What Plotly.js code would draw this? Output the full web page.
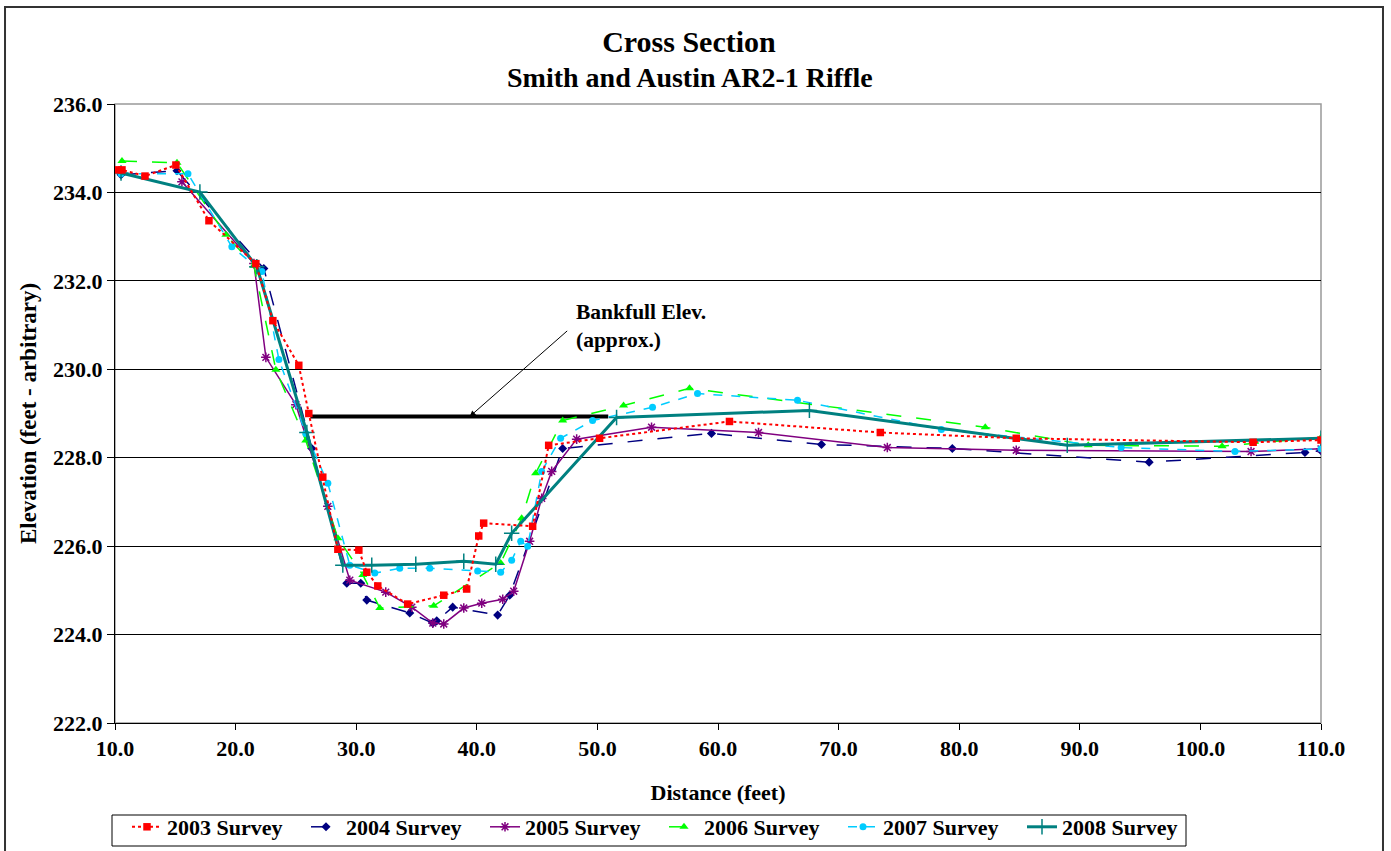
<!DOCTYPE html>
<html>
<head>
<meta charset="utf-8">
<script src="https://cdn.plot.ly/plotly-3.0.1.min.js"></script>
<style>
html,body{margin:0;padding:0;background:#fff;}
#chart{width:1391px;height:851px;}
</style>
</head>
<body>
<div id="chart"></div>
<script>
// ---- data (distance in feet, elevation in feet) ----
const x2003 = [10.25, 10.58, 12.49, 15.05, 17.79, 21.68, 23.09, 25.24, 26.07, 27.23, 28.48, 30.22, 30.88, 31.79, 34.27, 37.26, 39.16, 40.16, 40.57, 44.63, 45.96, 50.18, 60.95, 73.46, 84.73, 104.37, 110.0];
const y2003 = [234.51, 234.51, 234.37, 234.62, 233.36, 232.39, 231.10, 230.09, 229.00, 227.56, 225.93, 225.91, 225.41, 225.10, 224.69, 224.89, 225.03, 226.23, 226.52, 226.45, 228.28, 228.44, 228.82, 228.57, 228.44, 228.35, 228.40];

const x2004 = [10.50, 15.14, 22.34, 26.32, 29.22, 30.38, 30.88, 34.44, 36.35, 36.68, 38.00, 41.73, 42.73, 47.12, 59.46, 68.58, 79.43, 95.75, 108.67, 110.0];
const y2004 = [234.40, 234.49, 232.28, 228.21, 225.16, 225.16, 224.78, 224.49, 224.26, 224.31, 224.62, 224.44, 224.89, 228.21, 228.55, 228.30, 228.21, 227.90, 228.12, 228.16];

const x2005 = [15.55, 21.52, 22.51, 25.00, 27.65, 29.47, 32.45, 34.61, 36.35, 37.26, 38.92, 40.41, 42.15, 43.06, 44.38, 45.38, 46.21, 48.28, 54.49, 63.36, 74.04, 84.73, 104.20, 110.0];
const y2005 = [234.24, 232.39, 230.27, 229.20, 226.90, 225.23, 224.96, 224.62, 224.26, 224.24, 224.60, 224.71, 224.80, 224.98, 226.11, 227.08, 227.69, 228.42, 228.69, 228.57, 228.23, 228.17, 228.14, 228.20];

const x2006 = [10.58, 15.14, 19.20, 21.52, 23.34, 25.82, 28.48, 30.55, 31.96, 36.43, 41.98, 43.72, 44.88, 47.12, 52.17, 57.64, 82.16, 90.70, 101.80, 110.0];
const y2006 = [234.71, 234.67, 233.04, 232.34, 229.99, 228.39, 226.18, 225.35, 224.60, 224.65, 225.62, 226.63, 227.65, 228.84, 229.18, 229.57, 228.69, 228.28, 228.26, 228.46];

const x2007 = [10.50, 16.05, 19.69, 22.18, 23.59, 25.82, 27.65, 29.47, 31.54, 33.61, 36.10, 40.07, 41.98, 42.89, 43.64, 44.22, 45.38, 46.95, 49.60, 54.57, 58.30, 66.59, 78.52, 93.43, 102.87, 110.0];
const y2007 = [234.42, 234.42, 232.77, 232.21, 230.22, 228.55, 227.42, 225.57, 225.39, 225.50, 225.50, 225.44, 225.41, 225.68, 226.11, 226.00, 227.69, 228.44, 228.84, 229.14, 229.45, 229.30, 228.64, 228.23, 228.14, 228.20];

const x2008 = [10.50, 17.04, 21.76, 25.91, 28.89, 31.29, 34.94, 38.92, 41.57, 42.89, 51.59, 67.58, 88.96, 110.0];
const y2008 = [234.44, 234.01, 232.32, 228.57, 225.57, 225.57, 225.59, 225.66, 225.59, 226.29, 228.91, 229.07, 228.28, 228.44];

const bankfullX = [26.2, 50.9];
const bankfullY = [228.93, 228.93];

const seriesNames = ['2003 Survey', '2004 Survey', '2005 Survey', '2006 Survey', '2007 Survey', '2008 Survey'];

const FONT = '"Liberation Serif", "Times New Roman", Times, serif';

const traces = [
  {x: bankfullX, y: bankfullY, mode: 'lines', line: {color: '#000', width: 4}, showlegend: false, hoverinfo: 'skip'},
  {x: x2004, y: y2004, name: seriesNames[1], mode: 'lines+markers',
   line: {color: '#000080', width: 1.5, dash: 'longdash'}, marker: {symbol: 'diamond', size: 7, color: '#000080'}},
  {x: x2005, y: y2005, name: seriesNames[2], mode: 'lines+markers',
   line: {color: '#800080', width: 1.5}, marker: {symbol: 'asterisk-open', size: 8, color: '#800080', line: {color: '#800080', width: 1.5}}},
  {x: x2006, y: y2006, name: seriesNames[3], mode: 'lines+markers',
   line: {color: '#00FF00', width: 1.5, dash: 'longdash'}, marker: {symbol: 'triangle-up', size: 8, color: '#00FF00'}},
  {x: x2007, y: y2007, name: seriesNames[4], mode: 'lines+markers',
   line: {color: '#00CCFF', width: 1.5, dash: 'dash'}, marker: {symbol: 'circle', size: 7, color: '#00CCFF'}},
  {x: x2008, y: y2008, name: seriesNames[5], mode: 'lines+markers',
   line: {color: '#008080', width: 3}, marker: {symbol: 'cross-thin-open', size: 11, color: '#008080', line: {color: '#008080', width: 1.5}}},
  {x: x2003, y: y2003, name: seriesNames[0], mode: 'lines+markers',
   line: {color: '#FF0000', width: 2, dash: 'dot'}, marker: {symbol: 'square', size: 7.5, color: '#FF0000'}}
];

const layout = {
  width: 1391, height: 851,
  margin: {l: 115, r: 70, t: 104, b: 128, autoexpand: false},
  paper_bgcolor: '#fff', plot_bgcolor: '#fff',
  font: {family: FONT, color: '#000', size: 22, weight: 'bold'},
  showlegend: true,
  title: {text: 'Cross Section', font: {family: FONT, size: 30, weight: 'bold', color: '#000'},
          xref: 'container', x: 0.4953, xanchor: 'center', yref: 'container', y: 1 - 41/851, yanchor: 'middle'},
  xaxis: {
    range: [10, 110], dtick: 10, tick0: 10, tickformat: '.1f',
    showgrid: false, zeroline: false,
    showline: true, linecolor: '#000', linewidth: 1,
    ticks: 'outside', ticklen: 6, tickcolor: '#000',
    tickfont: {family: FONT, size: 22, weight: 'bold'},
    title: {text: 'Distance (feet)', font: {family: FONT, size: 22, weight: 'bold'}, standoff: 24}
  },
  yaxis: {
    range: [222, 236], dtick: 2, tick0: 222, tickformat: '.1f',
    showgrid: true, gridcolor: '#000', gridwidth: 1, zeroline: false,
    showline: true, linecolor: '#000', linewidth: 1,
    ticks: 'outside', ticklen: 7, tickcolor: '#000',
    tickfont: {family: FONT, size: 22, weight: 'bold'},
    title: {text: 'Elevation (feet - arbitrary)', font: {family: FONT, size: 23, weight: 'bold'}, standoff: 10}
  },
  legend: {
    orientation: 'h', x: (127-115)/1206, xanchor: 'left', y: (723-806)/619, yanchor: 'top',
    borderwidth: 0, bgcolor: 'rgba(0,0,0,0)',
    font: {family: FONT, size: 22, weight: 'bold'},
    traceorder: 'normal', entrywidth: 134, entrywidthmode: 'pixels'
  },
  shapes: [
    {type: 'rect', xref: 'paper', yref: 'paper', x0: 0, x1: 1, y0: 0, y1: 1, line: {color: '#999', width: 1.5}, layer: 'below'},
    {type: 'rect', xref: 'paper', yref: 'paper', x0: -0.0912, x1: 1.0514, y0: -0.22, y1: 1.1567, line: {color: '#333', width: 2}},
    {type: 'rect', xref: 'paper', yref: 'paper', x0: (112-115)/1206, x1: (1186-115)/1206, y0: (723-846)/619, y1: (723-815)/619,
     line: {color: '#000', width: 1}, layer: 'below'}
  ],
  annotations: [
    {xref: 'paper', yref: 'paper', x: (690-115)/1206, y: (723-77)/619, xanchor: 'center', yanchor: 'middle',
     text: 'Smith and Austin AR2-1 Riffle', showarrow: false, font: {family: FONT, size: 28, weight: 'bold'}},
    {x: 39.41, y: 228.93, xref: 'x', yref: 'y', text: '', showarrow: true, ax: 99, ay: -87,
     arrowhead: 2, arrowsize: 1.2, arrowwidth: 1, arrowcolor: '#000', standoff: 0},
    {x: 48.03, y: 230.99, xref: 'x', yref: 'y', xanchor: 'left', yanchor: 'middle', align: 'left',
     text: 'Bankfull Elev.<br>(approx.)', showarrow: false, font: {family: FONT, size: 21.5, weight: 'bold'}}
  ]
};

// legend order: 2003 first
const order = [6, 1, 2, 3, 4, 5];
traces.forEach((t, i) => { if (i > 0) t.legendrank = order.indexOf(i) + 1; });

Plotly.newPlot('chart', traces, layout, {displayModeBar: false, staticPlot: true});
</script>
</body>
</html>
